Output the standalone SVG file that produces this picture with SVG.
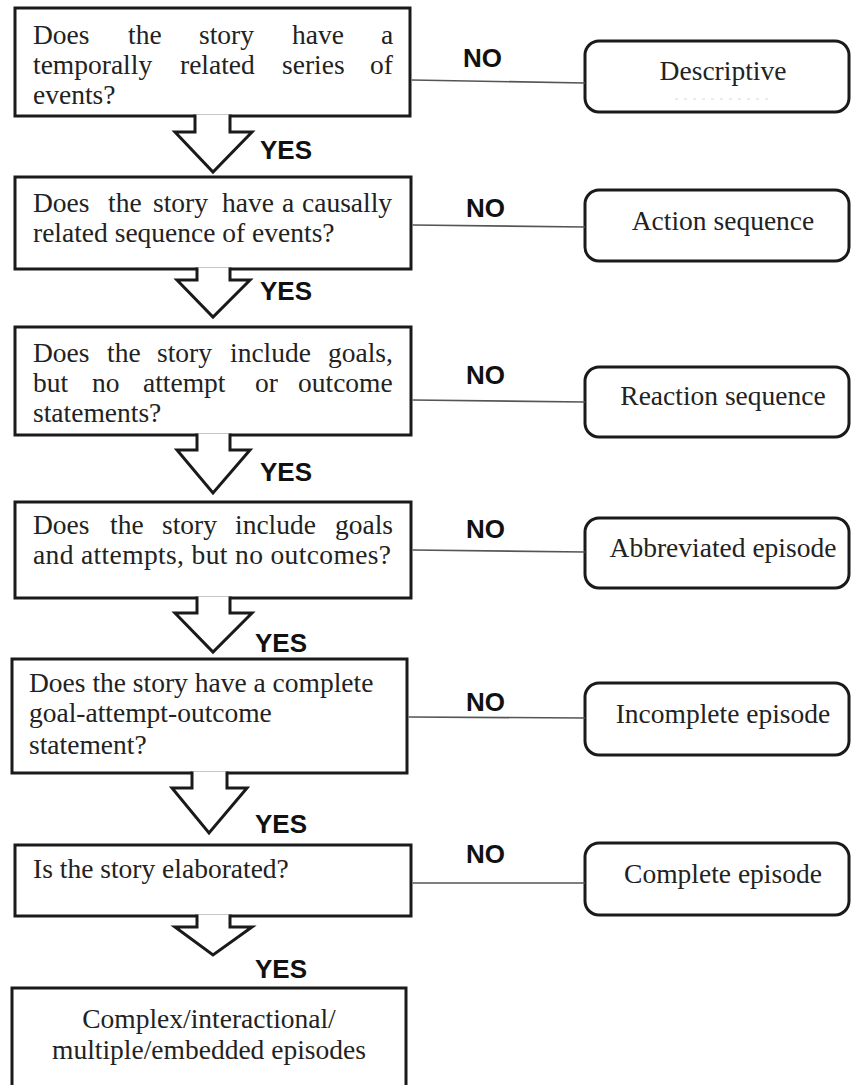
<svg xmlns="http://www.w3.org/2000/svg" width="851" height="1085" viewBox="0 0 851 1085">
<style>
.box{fill:#fff;stroke:#1a1a1a;stroke-width:3}
.rbox{fill:#fff;stroke:#1a1a1a;stroke-width:3}
.t{font-family:"Liberation Serif","Times New Roman",serif;font-size:27.5px;fill:#222}
.c{text-anchor:middle}
.lab{font-family:"Liberation Sans",Arial,sans-serif;font-size:26px;font-weight:bold;fill:#111}
.arrow{fill:#fff;stroke:#1a1a1a;stroke-width:3;stroke-linejoin:miter}
.line{stroke:#555;stroke-width:1.6;fill:none}
</style>
<rect width="851" height="1085" fill="#fff"/>
<g id="nodes">
  <g id="q1">
    <rect class="box" x="15" y="8" width="395" height="108"/>
    <text class="t" y="44"><tspan x="33">Does</tspan><tspan x="128">the</tspan><tspan x="199">story</tspan><tspan x="292">have</tspan><tspan x="381">a</tspan></text>
    <text class="t" y="74"><tspan x="33">temporally</tspan><tspan x="180">related</tspan><tspan x="282">series</tspan><tspan x="370">of</tspan></text>
    <text class="t" x="33" y="104">events?</text>
  </g>
  <g id="q2">
    <rect class="box" x="15" y="177" width="396" height="92"/>
    <text class="t" y="212"><tspan x="33">Does</tspan><tspan x="108">the</tspan><tspan x="153">story</tspan><tspan x="222">have</tspan><tspan x="282">a</tspan><tspan x="302">causally</tspan></text>
    <text class="t" x="33" y="242">related sequence of events?</text>
  </g>
  <g id="q3">
    <rect class="box" x="15" y="327" width="396" height="108"/>
    <text class="t" y="362"><tspan x="33">Does</tspan><tspan x="107">the</tspan><tspan x="157">story</tspan><tspan x="230">include</tspan><tspan x="328">goals,</tspan></text>
    <text class="t" y="392"><tspan x="33">but</tspan><tspan x="92">no</tspan><tspan x="143">attempt</tspan><tspan x="255">or</tspan><tspan x="298">outcome</tspan></text>
    <text class="t" x="33" y="422">statements?</text>
  </g>
  <g id="q4">
    <rect class="box" x="15" y="502" width="396" height="96"/>
    <text class="t" y="534"><tspan x="33">Does</tspan><tspan x="110">the</tspan><tspan x="162">story</tspan><tspan x="235">include</tspan><tspan x="335">goals</tspan></text>
    <text class="t" x="33" y="564" textLength="358" lengthAdjust="spacing">and attempts, but no outcomes?</text>
  </g>
  <g id="q5">
    <rect class="box" x="12" y="659" width="395" height="114"/>
    <text class="t" x="29" y="692">Does the story have a complete</text>
    <text class="t" x="29" y="722">goal-attempt-outcome</text>
    <text class="t" x="29" y="754">statement?</text>
  </g>
  <g id="q6">
    <rect class="box" x="15" y="845" width="396" height="71"/>
    <text class="t" x="33" y="878">Is the story elaborated?</text>
  </g>
  <g id="complex">
    <rect class="box" x="12" y="988" width="394" height="112"/>
    <text class="t c" x="209" y="1028">Complex/interactional/</text>
    <text class="t c" x="209" y="1059">multiple/embedded episodes</text>
  </g>
  <g id="descriptive">
    <rect class="rbox" x="585" y="41" width="264" height="71" rx="14"/>
    <text class="t c" x="723" y="80">Descriptive</text>
    <line x1="675" y1="99" x2="772" y2="99" stroke="#d6d6d6" stroke-width="1.2" stroke-dasharray="3,6"/>
  </g>
  <g id="action">
    <rect class="rbox" x="585" y="190" width="264" height="71" rx="14"/>
    <text class="t c" x="723" y="230">Action sequence</text>
  </g>
  <g id="reaction">
    <rect class="rbox" x="585" y="367" width="264" height="70" rx="14"/>
    <text class="t c" x="723" y="405">Reaction sequence</text>
  </g>
  <g id="abbreviated">
    <rect class="rbox" x="585" y="518" width="264" height="70" rx="14"/>
    <text class="t c" x="723" y="557">Abbreviated episode</text>
  </g>
  <g id="incomplete">
    <rect class="rbox" x="585" y="683" width="264" height="72" rx="14"/>
    <text class="t c" x="723" y="723">Incomplete episode</text>
  </g>
  <g id="complete">
    <rect class="rbox" x="585" y="843" width="264" height="72" rx="14"/>
    <text class="t c" x="723" y="883">Complete episode</text>
  </g>
</g>
<g id="connectors">
  <path class="arrow" d="M195,114.5 V132 H175 L213,172 L252,132 H230 V114.5"/>
  <path class="arrow" d="M197,267.5 V280 H177 L213,317 L250,280 H230 V267.5"/>
  <path class="arrow" d="M197,433.5 V450 H177 L213,493 L250,450 H230 V433.5"/>
  <path class="arrow" d="M197,596.5 V613 H175 L213,652 L252,613 H230 V596.5"/>
  <path class="arrow" d="M192,771.5 V788 H172 L209,833 L247,788 H227 V771.5"/>
  <path class="arrow" d="M197,914.5 V927 H175 L213,955 L252,927 H230 V914.5"/>
  <line class="line" x1="411.5" y1="80" x2="585" y2="83"/>
  <line class="line" x1="412.5" y1="225" x2="585" y2="227"/>
  <line class="line" x1="412.5" y1="400" x2="585" y2="402"/>
  <line class="line" x1="412.5" y1="550" x2="585" y2="552"/>
  <line class="line" x1="408.5" y1="717" x2="585" y2="718"/>
  <line class="line" x1="412.5" y1="883" x2="585" y2="883"/>
  <text class="lab" x="463" y="67">NO</text>
  <text class="lab" x="466" y="217">NO</text>
  <text class="lab" x="466" y="384">NO</text>
  <text class="lab" x="466" y="538">NO</text>
  <text class="lab" x="466" y="711">NO</text>
  <text class="lab" x="466" y="863">NO</text>
  <text class="lab" x="260" y="159">YES</text>
  <text class="lab" x="260" y="300">YES</text>
  <text class="lab" x="260" y="481">YES</text>
  <text class="lab" x="255" y="652">YES</text>
  <text class="lab" x="255" y="833">YES</text>
  <text class="lab" x="255" y="978">YES</text>
</g>
</svg>
